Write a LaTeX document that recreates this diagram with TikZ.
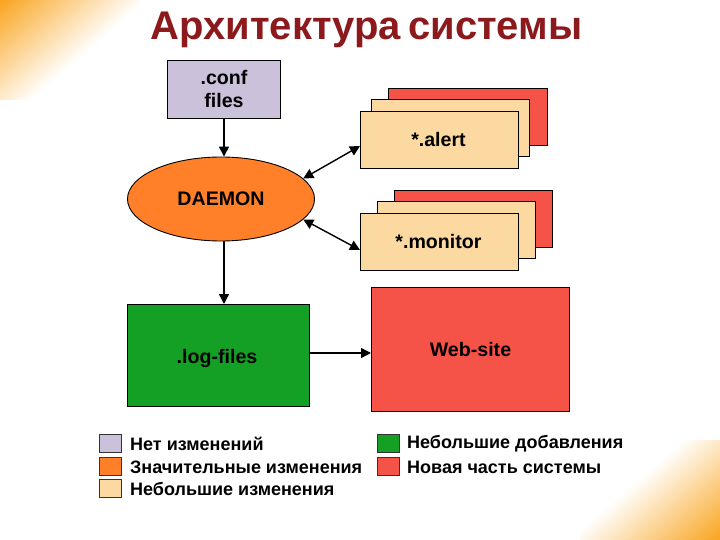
\documentclass[tikz,border=0pt]{standalone}
\usepackage{fontspec}
\setmainfont{Liberation Sans}
\usetikzlibrary{shapes.geometric,arrows.meta}
\definecolor{cgrey}{HTML}{CCC1DA}
\definecolor{corange}{HTML}{FF8028}
\definecolor{cpale}{HTML}{FCD9A0}
\definecolor{cgreen}{HTML}{14A024}
\definecolor{cred}{HTML}{F55347}
\definecolor{ctitle}{HTML}{8C1A1C}
\definecolor{cglow}{HTML}{F9A41E}
\tikzset{
  box/.style={draw=black,line width=0.9pt,anchor=north west,inner sep=0pt,align=center,font=\bfseries\fontsize{19.6}{23}\selectfont},
  conn/.style={line width=1.4pt,-{Triangle[length=10pt,width=10pt]}},
  dconn/.style={line width=1.4pt,{Triangle[length=10pt,width=10pt]}-{Triangle[length=10pt,width=10pt]}},
  swatch/.style={draw=black!80,line width=0.7pt,anchor=north west,inner sep=0pt,minimum width=22pt,minimum height=18pt},
  legend/.style={anchor=west,inner sep=0pt,font=\bfseries\fontsize{18}{20}\selectfont}
}
\newcommand{\bx}[7]{\node[box,fill=#2,minimum width=#5pt-#3pt-0.9pt,minimum height=#6pt-#4pt] (#1) at (#3,#4) {#7};}
\begin{document}
\begin{tikzpicture}[x=1pt,y=-1pt]
\useasboundingbox (0,0) rectangle (720,540);
\fill[white] (0,0) rectangle (720,540);
% corners
\begin{scope}
\clip (0,0) rectangle (140,100);
\begin{scope}[transform canvas={rotate around={-49:(0,0)}}]
\shade[left color=cglow,right color=white] (0,-300) rectangle (96,300);
\end{scope}
\end{scope}
\begin{scope}
\clip (580,440) rectangle (720,540);
\begin{scope}[transform canvas={shift={(720,540)},rotate around={-49:(0,0)}}]
\shade[left color=white,right color=cglow] (-100,-300) rectangle (0,300);
\end{scope}
\end{scope}
\node[inner sep=0pt,text=ctitle,font=\bfseries\fontsize{40}{44}\selectfont] (title) at (366.5,30) {Архитектура\kern-4pt\ системы};
% stacks
\bx{a3}{cred}{388}{88}{548}{145}{}
\bx{a2}{cpale}{371}{99}{530}{156}{}
\bx{a1}{cpale}{360}{111}{519}{168}{\kern-2pt *.alert}
\bx{m3}{cred}{394}{190}{553}{247}{}
\bx{m2}{cpale}{377}{201}{536}{258}{}
\bx{m1}{cpale}{360}{213}{519}{270}{\kern-2pt *.monitor}
\bx{conf}{cgrey}{167}{60}{281}{118}{.conf\\files}
\node[ellipse,draw=black,line width=0.9pt,fill=corange,minimum width=187pt,minimum height=84pt,inner sep=0pt,font=\bfseries\fontsize{19.6}{23}\selectfont] (daemon) at (221,199) {DAEMON};
\bx{log}{cgreen}{127}{304}{310}{406}{\kern-3pt\raisebox{-8pt}[0pt][0pt]{.log-files}}
\bx{web}{cred}{371}{287}{570}{411}{\raisebox{-7pt}[0pt][0pt]{Web-site}}
% connectors
\draw[conn] (conf.south -| 224,0) -- (daemon.north -| 224,0);
\draw[conn] (daemon.south -| 224,0) -- (log.north -| 224,0);
\draw[conn] (log.east |- 0,353) -- (web.west |- 0,353);
\coordinate (ae) at (360,146);
\coordinate (me) at (360,250);
\draw[dconn] (daemon.14) -- (ae);
\draw[dconn] (daemon.-14) -- (me);
% legend
\node[swatch,fill=cgrey] (s1) at (99,434) {};
\node[swatch,fill=corange] (s2) at (99,457) {};
\node[swatch,fill=cpale] (s3) at (99,479) {};
\node[swatch,fill=cgreen] (s4) at (377,434) {};
\node[swatch,fill=cred] (s5) at (377,457) {};
\node[legend] (l1) at (130,444) {Нет изменений};
\node[legend] (l2) at (130,467) {Значительные изменения};
\node[legend] (l3) at (130,489) {Небольшие изменения};
\node[legend] (l4) at (407,444) {Небольшие добавления};
\node[legend] (l5) at (407,467) {Новая часть системы};
\end{tikzpicture}
\end{document}
